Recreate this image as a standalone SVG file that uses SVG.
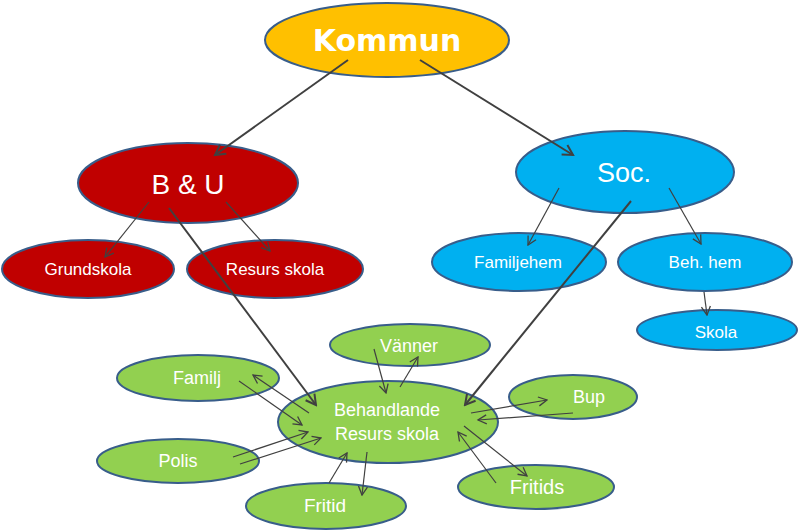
<svg xmlns="http://www.w3.org/2000/svg" width="800" height="531" viewBox="0 0 800 531">
<style>
ellipse{stroke:#385D8A;stroke-width:2}
.y{fill:#FFC000}.r{fill:#C00000}.b{fill:#00B0F0}.g{fill:#92D050}
text{font-family:"Liberation Sans",Arial,sans-serif;fill:#fff;text-anchor:middle}
.t{font-size:17px}.gt{font-size:18px}
.c line{stroke:#404040;fill:none}
.k{stroke-width:2;marker-end:url(#ak)}
.n{stroke-width:1.2;marker-end:url(#an)}
</style>
<defs>
<marker id="ak" markerUnits="userSpaceOnUse" viewBox="0 0 14 14" refX="12" refY="7" markerWidth="14" markerHeight="14" orient="auto"><path d="M2,1.5 L12,7 L2,12.5" fill="none" stroke="#404040" stroke-width="2"/></marker>
<marker id="an" markerUnits="userSpaceOnUse" viewBox="0 0 12 12" refX="10.5" refY="6" markerWidth="12" markerHeight="12" orient="auto"><path d="M2,1.5 L10.5,6 L2,10.5" fill="none" stroke="#404040" stroke-width="1.3"/></marker>
</defs>
<g id="kommun"><ellipse class="y" cx="387" cy="40" rx="122" ry="37"/><text x="387" y="51" style="font-family:'DejaVu Sans',sans-serif;font-size:30px;font-weight:bold">Kommun</text></g>
<g id="bu"><ellipse class="r" cx="188" cy="183" rx="110" ry="40"/><text x="188" y="194" style="font-size:28px">B &amp; U</text></g>
<g id="grundskola"><ellipse class="r" cx="88" cy="269" rx="86" ry="29"/><text class="t" x="88" y="275">Grundskola</text></g>
<g id="resursskola"><ellipse class="r" cx="275" cy="269" rx="88" ry="29"/><text class="t" x="275" y="275">Resurs skola</text></g>
<g id="soc"><ellipse class="b" cx="625" cy="172" rx="109" ry="41"/><text x="624" y="182" style="font-size:27px">Soc.</text></g>
<g id="familjehem"><ellipse class="b" cx="519" cy="262" rx="87" ry="29"/><text class="t" x="518" y="268">Familjehem</text></g>
<g id="behhem"><ellipse class="b" cx="705" cy="262" rx="87" ry="29"/><text class="t" x="705" y="268">Beh. hem</text></g>
<g id="skola"><ellipse class="b" cx="717" cy="330" rx="80" ry="20"/><text class="t" x="716" y="338">Skola</text></g>
<g id="vanner"><ellipse class="g" cx="410" cy="345" rx="80" ry="21"/><text class="gt" x="409" y="352">Vänner</text></g>
<g id="familj"><ellipse class="g" cx="198" cy="378" rx="81" ry="23"/><text class="gt" x="197" y="384">Familj</text></g>
<g id="behandlande"><ellipse class="g" cx="388" cy="422" rx="110" ry="41"/><text class="gt" x="387" y="416">Behandlande</text><text class="gt" x="387" y="440">Resurs skola</text></g>
<g id="polis"><ellipse class="g" cx="178" cy="461" rx="81" ry="22"/><text class="gt" x="178" y="467">Polis</text></g>
<g id="fritid"><ellipse class="g" cx="326" cy="506" rx="80" ry="23"/><text class="gt" x="325" y="512" style="font-size:19px">Fritid</text></g>
<g id="bup"><ellipse class="g" cx="573" cy="397" rx="64" ry="22"/><text class="gt" x="589" y="403">Bup</text></g>
<g id="fritids"><ellipse class="g" cx="536" cy="487" rx="78" ry="22"/><text x="537" y="494" style="font-size:20px">Fritids</text></g>
<g class="c" id="connectors">
<line class="k" x1="348" y1="60" x2="215" y2="155"/>
<line class="k" x1="420" y1="60" x2="573" y2="155"/>
<line class="k" x1="169" y1="208" x2="316" y2="405"/>
<line class="k" x1="631" y1="201" x2="465" y2="405"/>
<line class="n" x1="149" y1="202" x2="105" y2="257"/>
<line class="n" x1="226" y1="202" x2="270" y2="251"/>
<line class="n" x1="559" y1="188" x2="528" y2="245"/>
<line class="n" x1="669" y1="188" x2="701" y2="244"/>
<line class="n" x1="704" y1="292" x2="707" y2="315"/>
<line class="n" x1="374" y1="349" x2="386" y2="393"/>
<line class="n" x1="400" y1="387" x2="418" y2="357"/>
<line class="n" x1="309" y1="413" x2="253" y2="375"/>
<line class="n" x1="239" y1="381" x2="302" y2="425"/>
<line class="n" x1="233" y1="457" x2="308" y2="432"/>
<line class="n" x1="240" y1="464" x2="321" y2="438"/>
<line class="n" x1="329" y1="483" x2="347" y2="453"/>
<line class="n" x1="367" y1="452" x2="362" y2="495"/>
<line class="n" x1="471" y1="413" x2="547" y2="400"/>
<line class="n" x1="573" y1="413" x2="478" y2="420"/>
<line class="n" x1="464" y1="426" x2="527" y2="476"/>
<line class="n" x1="496" y1="483" x2="458" y2="432"/>
</g>
</svg>
